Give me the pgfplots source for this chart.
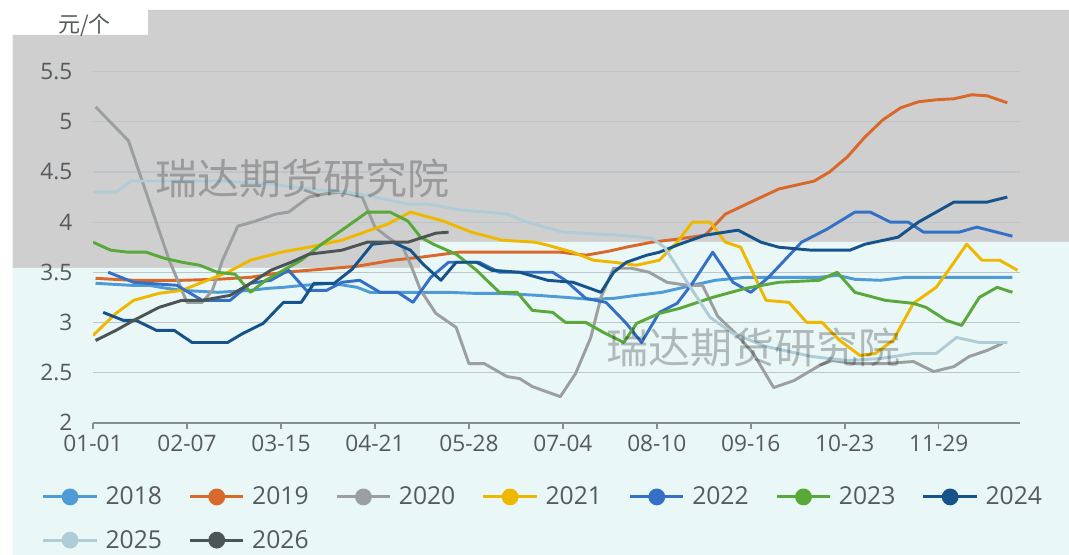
\documentclass[border=0pt]{standalone}
\usepackage{fontspec}
\setmainfont{Open Sans}
\newfontfamily\cjk{Noto Sans CJK SC}
\usepackage{pgfplots}
\pgfplotsset{compat=1.18}
\definecolor{bggray}{RGB}{207,207,208}
\definecolor{bgteal}{RGB}{233,247,246}
\definecolor{gridcol}{RGB}{190,198,204}
\definecolor{axisgray}{RGB}{135,142,145}
\definecolor{labgray}{RGB}{85,90,92}
\definecolor{c2018}{RGB}{78,155,214}
\definecolor{c2019}{RGB}{217,105,42}
\definecolor{c2020}{RGB}{155,159,159}
\definecolor{c2021}{RGB}{239,184,0}
\definecolor{c2022}{RGB}{52,112,198}
\definecolor{c2023}{RGB}{90,168,58}
\definecolor{c2024}{RGB}{22,83,138}
\definecolor{c2025}{RGB}{176,204,214}
\definecolor{c2026}{RGB}{75,85,85}
\begin{document}
\begin{tikzpicture}[x=0.75pt,y=-0.75pt]
\fill[white] (0,0) rectangle (1069,555);
\fill[bggray] (12.7,35) -- (148,35) -- (148,10) -- (1069,10) -- (1069,242) -- (420,242) -- (420,268) -- (12.7,268) -- cycle;
\fill[bgteal] (12.7,268) -- (420,268) -- (420,242) -- (1069,242) -- (1069,555) -- (12.7,555) -- cycle;
\node[anchor=west, text=labgray, font=\cjk\fontsize{16.5}{18}\selectfont, inner sep=0pt] at (58,25) {元/个};
\begin{axis}[
  at={(69.75pt,-317.025pt)}, anchor=south west,
  scale only axis, width=695.25pt, height=263.25pt,
  xmin=0, xmax=365, ymin=2, ymax=5.5,
  axis x line=bottom, axis y line=left,
  axis line style={-},
  x axis line style={draw=axisgray, line width=1.3pt},
  y axis line style={draw=none},
  ytick style={draw=none},
  xtick style={draw=axisgray, line width=1.1pt},
  tick align=outside, major tick length=5pt,
  ymajorgrids, grid style={gridcol, line width=0.9pt},
  xtick={0,37,74,111,148,185,222,259,296,333},
  xticklabels={01-01,02-07,03-15,04-21,05-28,07-04,08-10,09-16,10-23,11-29},
  ytick={2,2.5,3,3.5,4,4.5,5,5.5},
  /pgf/number format/assume math mode=true,
  tick label style={font=\fontsize{17}{20}\selectfont, text=labgray},
  yticklabel style={xshift=-7pt},
  xticklabel style={yshift=-1pt},
  legend columns=7,
  legend cell align=left,
  legend style={draw=none, fill=none, inner sep=0pt, at={(0,0)}, anchor=north west,
    xshift=-38.5pt, yshift=-46pt,
    font=\fontsize{18.5}{21}\selectfont, text=labgray,
    /tikz/every odd column/.append style={column sep=3.5pt},
    /tikz/every even column/.append style={column sep=18pt},
    /tikz/row sep=13.5pt},
  legend image code/.code={\draw[line width=2.2pt] (0pt,0pt) -- (40pt,0pt); \fill (20pt,0pt) circle (5.2pt);},
  every axis plot/.append style={line width=2.2pt, mark=none, line join=round},
]
\addplot[c2018] coordinates {(1,3.39) (8,3.38) (15,3.37) (22,3.37) (29,3.34) (35,3.32) (42,3.31) (49,3.30) (56,3.31) (62,3.32) (69,3.34) (75,3.35) (83,3.37) (94,3.39) (104,3.35) (109,3.30) (117,3.30) (125,3.30) (133,3.30) (140,3.30) (150,3.29) (160,3.29) (168,3.28) (175,3.27) (186,3.25) (196,3.23) (205,3.24) (214,3.27) (224,3.30) (236,3.37) (245,3.42) (257,3.45) (270,3.45) (286,3.45) (293,3.47) (300,3.43) (310,3.42) (320,3.45) (330,3.45) (340,3.45) (350,3.45) (362,3.45)};
\addlegendentry{2018}
\addplot[c2019] coordinates {(1,3.44) (8,3.43) (16,3.42) (25,3.42) (35,3.42) (49,3.43) (62,3.45) (75,3.50) (90,3.53) (104,3.56) (118,3.62) (129,3.65) (144,3.70) (160,3.70) (172,3.70) (184,3.70) (194,3.67) (203,3.71) (210,3.75) (220,3.80) (230,3.83) (241,3.87) (249,4.08) (259,4.20) (270,4.33) (277,4.37) (284,4.41) (290,4.50) (297,4.65) (304,4.85) (311,5.02) (318,5.14) (325,5.20) (332,5.22) (339,5.23) (346,5.27) (352,5.26) (360,5.19)};
\addlegendentry{2019}
\addplot[c2020] coordinates {(1,5.15) (14,4.81) (30,3.62) (37,3.20) (43,3.20) (47,3.32) (51,3.62) (57,3.96) (64,4.01) (72,4.08) (77,4.10) (85,4.25) (91,4.28) (98,4.30) (106,4.25) (111,3.95) (116,3.85) (122,3.75) (125,3.58) (129,3.32) (135,3.09) (143,2.95) (148,2.59) (154,2.59) (163,2.46) (168,2.44) (173,2.36) (184,2.26) (190,2.49) (196,2.85) (200,3.25) (205,3.54) (212,3.54) (219,3.50) (226,3.40) (234,3.37) (240,3.37) (246,3.06) (253,2.89) (260,2.69) (268,2.35) (276,2.42) (286,2.57) (291,2.62) (300,2.59) (312,2.59) (323,2.61) (331,2.51) (339,2.56) (345,2.66) (352,2.72) (358,2.79)};
\addlegendentry{2020}
\addplot[c2021] coordinates {(0,2.87) (9,3.09) (16,3.22) (26,3.29) (35,3.32) (45,3.42) (53,3.50) (62,3.62) (74,3.70) (85,3.75) (98,3.82) (108,3.91) (116,3.98) (125,4.10) (138,4.01) (149,3.90) (161,3.82) (174,3.80) (179,3.77) (189,3.70) (197,3.62) (205,3.60) (214,3.57) (223,3.62) (230,3.80) (236,4.00) (243,4.00) (249,3.80) (255,3.75) (265,3.22) (274,3.20) (281,3.00) (287,3.00) (294,2.82) (302,2.67) (308,2.69) (315,2.82) (323,3.19) (332,3.35) (336,3.49) (344,3.78) (350,3.62) (357,3.62) (364,3.52)};
\addlegendentry{2021}
\addplot[c2022] coordinates {(6,3.50) (16,3.40) (33,3.37) (43,3.22) (54,3.22) (62,3.39) (70,3.42) (77,3.52) (84,3.32) (92,3.32) (98,3.40) (105,3.42) (113,3.30) (120,3.30) (126,3.20) (133,3.45) (140,3.60) (152,3.60) (160,3.50) (181,3.50) (186,3.42) (194,3.24) (202,3.20) (210,2.99) (216,2.80) (223,3.10) (230,3.19) (236,3.39) (244,3.70) (252,3.40) (259,3.30) (266,3.45) (279,3.80) (289,3.93) (300,4.10) (306,4.10) (314,4.00) (321,4.00) (327,3.90) (341,3.90) (348,3.95) (362,3.86)};
\addlegendentry{2022}
\addplot[c2023] coordinates {(0,3.80) (7,3.72) (14,3.70) (21,3.70) (28,3.64) (35,3.60) (42,3.57) (49,3.50) (56,3.48) (62,3.30) (68,3.42) (75,3.52) (82,3.62) (90,3.78) (98,3.92) (108,4.10) (117,4.10) (124,4.01) (129,3.85) (134,3.78) (143,3.68) (151,3.52) (160,3.30) (167,3.30) (173,3.12) (181,3.10) (186,3.00) (194,3.00) (201,2.90) (209,2.80) (214,2.99) (223,3.09) (231,3.14) (244,3.25) (257,3.34) (270,3.40) (286,3.42) (293,3.50) (300,3.30) (312,3.22) (323,3.19) (328,3.15) (336,3.02) (342,2.97) (349,3.25) (356,3.35) (362,3.30)};
\addlegendentry{2023}
\addplot[c2024] coordinates {(4,3.10) (12,3.02) (17,3.02) (25,2.92) (32,2.92) (39,2.80) (53,2.80) (59,2.89) (67,2.99) (75,3.20) (82,3.20) (87,3.39) (95,3.39) (102,3.53) (110,3.78) (118,3.80) (125,3.72) (130,3.58) (137,3.42) (143,3.60) (151,3.60) (157,3.52) (168,3.50) (179,3.42) (189,3.40) (200,3.30) (205,3.50) (210,3.60) (218,3.67) (223,3.70) (231,3.78) (241,3.87) (254,3.92) (263,3.80) (270,3.75) (283,3.72) (298,3.72) (304,3.78) (317,3.85) (325,4.00) (339,4.20) (352,4.20) (360,4.25)};
\addlegendentry{2024}
\addplot[c2025] coordinates {(0,4.30) (9,4.30) (15,4.41) (30,4.41) (50,4.41) (70,4.38) (85,4.33) (100,4.30) (111,4.25) (124,4.18) (132,4.18) (145,4.12) (155,4.10) (163,4.08) (171,4.00) (185,3.90) (200,3.88) (207,3.87) (220,3.84) (225,3.75) (236,3.32) (243,3.05) (252,2.89) (265,2.76) (283,2.66) (297,2.62) (310,2.64) (323,2.69) (332,2.69) (340,2.85) (349,2.80) (360,2.80)};
\addlegendentry{2025}
\addplot[c2026] coordinates {(1,2.82) (9,2.92) (16,3.02) (26,3.15) (35,3.22) (43,3.22) (54,3.27) (62,3.39) (70,3.52) (78,3.60) (85,3.68) (98,3.72) (108,3.80) (124,3.80) (135,3.89) (140,3.90)};
\addlegendentry{2026}
\end{axis}
\node[font=\cjk\fontsize{31.5}{32}\selectfont, text=black, opacity=0.25] at (302,178) {瑞达期货研究院};
\node[font=\cjk\fontsize{31.5}{32}\selectfont, text=black, opacity=0.25] at (753,347) {瑞达期货研究院};
\end{tikzpicture}
\end{document}
